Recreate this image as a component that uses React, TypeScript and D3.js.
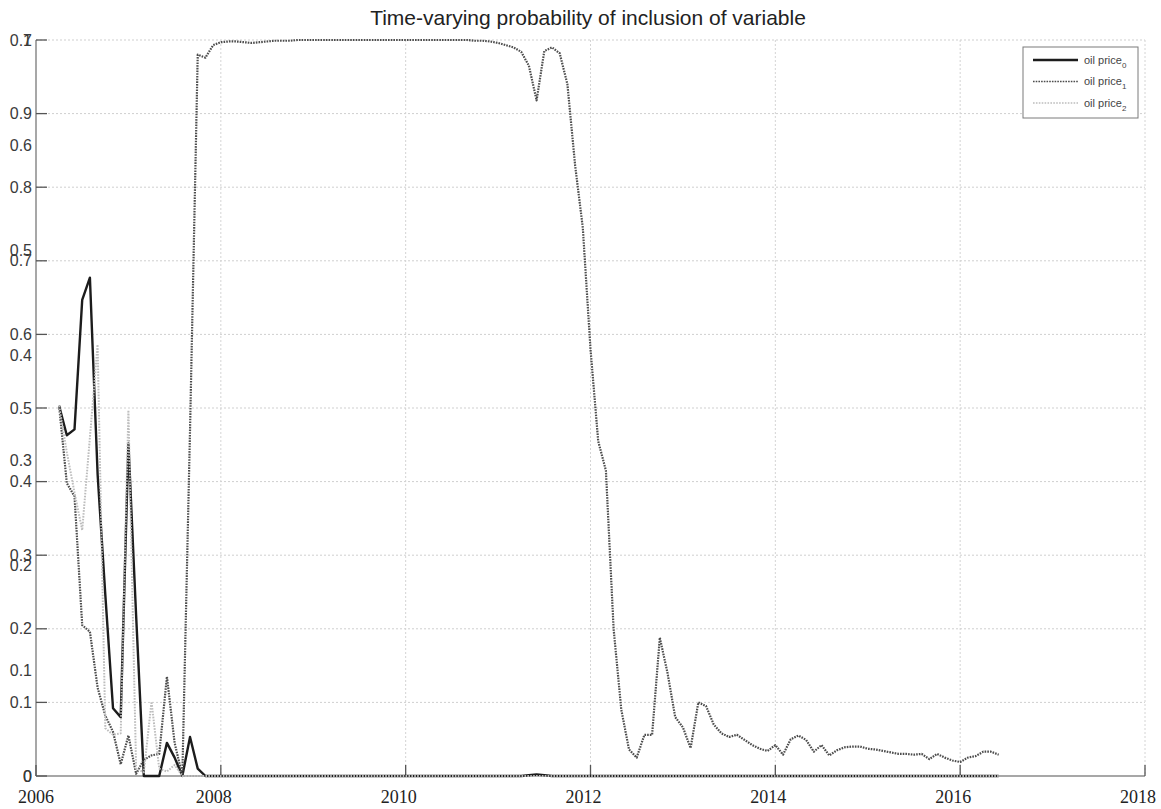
import { scaleLinear, line } from "d3";

// monthly observations, March 2006 .. May 2016
const startYear = 2006 + 3 / 12;

const oilPrice0 = [
  0.503, 0.463, 0.471, 0.647, 0.677, 0.41, 0.246, 0.092, 0.08, 0.452,
  0.218, 0, 0, 0, 0.045, 0.025, 0, 0.053, 0.01, 0,
  0, 0, 0, 0, 0, 0, 0, 0, 0, 0,
  0, 0, 0, 0, 0, 0, 0, 0, 0, 0,
  0, 0, 0, 0, 0, 0, 0, 0, 0, 0,
  0, 0, 0, 0, 0, 0, 0, 0, 0, 0,
  0, 0.001, 0.002, 0.001, 0, 0, 0, 0, 0, 0,
  0, 0, 0, 0, 0, 0, 0, 0, 0, 0,
  0, 0, 0, 0, 0, 0, 0, 0, 0, 0,
  0, 0, 0, 0, 0, 0, 0, 0, 0, 0,
  0, 0, 0, 0, 0, 0, 0, 0, 0, 0,
  0, 0, 0, 0, 0, 0, 0, 0, 0, 0,
  0, 0, 0,
];

const oilPrice1 = [
  0.503, 0.398, 0.38, 0.205, 0.196, 0.12, 0.082, 0.06, 0.016, 0.055,
  0.003, 0.022, 0.028, 0.03, 0.135, 0.045, 0, 0.47, 0.98, 0.976,
  0.993, 0.997, 0.998, 0.998, 0.997, 0.996, 0.997, 0.998, 0.999, 0.999,
  0.999, 1, 1, 1, 1, 1, 1, 1, 1, 1,
  1, 1, 1, 1, 1, 1, 1, 1, 1, 1,
  1, 1, 1, 1, 0.999, 0.999, 0.998, 0.996, 0.993, 0.99,
  0.984, 0.965, 0.918, 0.985, 0.99, 0.982, 0.94, 0.83, 0.745, 0.58,
  0.455, 0.415, 0.2, 0.09, 0.036, 0.025, 0.056, 0.056, 0.188, 0.14,
  0.08, 0.066, 0.038, 0.1, 0.095, 0.07, 0.058, 0.053, 0.056, 0.049,
  0.042, 0.037, 0.034, 0.042, 0.029, 0.05, 0.055, 0.049, 0.033, 0.042,
  0.028, 0.035, 0.039, 0.04, 0.04, 0.037, 0.036, 0.034, 0.032, 0.03,
  0.03, 0.029, 0.03, 0.023, 0.03, 0.025, 0.021, 0.019, 0.025, 0.027,
  0.033, 0.033, 0.029,
];

const oilPrice2 = [
  0.503, 0.44, 0.385, 0.334, 0.46, 0.586, 0.065, 0.056, 0.058, 0.497,
  0.01, 0.005, 0.101, 0.01, 0.006, 0.015, 0, 0, 0, 0,
  0, 0, 0, 0, 0, 0, 0, 0, 0, 0,
  0, 0, 0, 0, 0, 0, 0, 0, 0, 0,
  0, 0, 0, 0, 0, 0, 0, 0, 0, 0,
  0, 0, 0, 0, 0, 0, 0, 0, 0, 0,
  0, 0, 0, 0, 0, 0, 0, 0, 0, 0,
  0, 0, 0, 0, 0, 0, 0, 0, 0, 0,
  0, 0, 0, 0, 0, 0, 0, 0, 0, 0,
  0, 0, 0, 0, 0, 0, 0, 0, 0, 0,
  0, 0, 0, 0, 0, 0, 0, 0, 0, 0,
  0, 0, 0, 0, 0, 0, 0, 0, 0, 0,
  0, 0, 0,
];

const seriesNames = ["oil price", "oil price", "oil price"];
const seriesSubs = ["0", "1", "2"];
const yearTicks = [2006, 2008, 2010, 2012, 2014, 2016, 2018];
const yTicksMain = [0, 0.1, 0.2, 0.3, 0.4, 0.5, 0.6, 0.7, 0.8, 0.9, 1];
const yTicksOverlay = [0, 0.1, 0.2, 0.3, 0.4, 0.5, 0.6, 0.7];

const title = "Time-varying probability of inclusion of variable";

export default function App() {
  const width = 1161,
    height = 809;
  const left = 36,
    right = 1145,
    top = 40,
    bottom = 776;

  const x = scaleLinear().domain([2006, 2018]).range([left, right]);
  const y = scaleLinear().domain([0, 1]).range([bottom, top]);
  // second set of labels that sits over the first one
  const y2 = scaleLinear().domain([0, 0.7]).range([bottom, top]);

  const path = line<number>()
    .x((d, i) => x(startYear + i / 12))
    .y((d) => y(d));

  const styles = [
    { stroke: "#1c1c1c", width: 2.4, dash: undefined },
    { stroke: "#4d4d4d", width: 2.2, dash: "1.6 1.1" },
    { stroke: "#bdbdbd", width: 2, dash: "1.6 1.3" },
  ];
  const series = [oilPrice0, oilPrice1, oilPrice2];

  const fmt = (v: number) => String(+v.toFixed(1));

  return (
    <svg
      width={width}
      height={height}
      style={{ position: "absolute", left: 0, top: 0, background: "#fff" }}
      fontFamily="'Liberation Sans', Arial, sans-serif"
    >
      {/* grid */}
      {yTicksMain.slice(1).map((t) => (
        <line
          key={"gy" + t}
          x1={left}
          x2={right}
          y1={y(t)}
          y2={y(t)}
          stroke="#cfcfcf"
          strokeDasharray="2 2"
        />
      ))}
      {yearTicks.slice(1).map((t) => (
        <line
          key={"gx" + t}
          x1={x(t)}
          x2={x(t)}
          y1={top}
          y2={bottom}
          stroke="#d4d4d4"
          strokeDasharray="2 2"
        />
      ))}

      {/* axes */}
      <line x1={left} x2={left} y1={top} y2={bottom} stroke="#8a8a8a" strokeWidth={1.5} />
      <line x1={left} x2={right} y1={bottom} y2={bottom} stroke="#8a8a8a" strokeWidth={1.5} />
      {yTicksMain.map((t) => (
        <line key={"ty" + t} x1={left} x2={left + 11} y1={y(t)} y2={y(t)} stroke="#555" strokeWidth={1.3} />
      ))}
      {yearTicks.map((t) => (
        <line key={"tx" + t} x1={x(t)} x2={x(t)} y1={bottom} y2={bottom - 11} stroke="#555" strokeWidth={1.3} />
      ))}

      {/* series */}
      {series.map((s, i) => (
        <path
          key={"s" + i}
          d={path(s) ?? ""}
          fill="none"
          stroke={styles[i].stroke}
          strokeWidth={styles[i].width}
          strokeDasharray={styles[i].dash}
          strokeLinejoin="round"
        />
      ))}

      {/* y labels */}
      {yTicksMain.map((t) => (
        <text key={"ly" + t} x={32} y={y(t)} dy="0.35em" textAnchor="end" fontSize={16} fill="#3a3a3a">
          {fmt(t)}
        </text>
      ))}
      {yTicksOverlay.map((t) => (
        <text key={"ly2" + t} x={32} y={y2(t)} dy="0.35em" textAnchor="end" fontSize={16} fill="#3a3a3a">
          {fmt(t)}
        </text>
      ))}

      {/* x labels */}
      {yearTicks.map((t) => (
        <text
          key={"lx" + t}
          x={x(t) - (t === 2006 ? 0 : 7)}
          y={803}
          textAnchor="middle"
          fontSize={18}
          fontFamily="'Liberation Serif', 'Times New Roman', serif"
          fill="#222"
        >
          {t}
        </text>
      ))}

      {/* title */}
      <text x={588} y={25} textAnchor="middle" fontSize={21} fill="#222">
        {title}
      </text>

      {/* legend */}
      <g transform="translate(1023,47)">
        <rect width={115} height={71} fill="#fff" stroke="#7a7a7a" strokeWidth={1} />
        {seriesNames.map((n, i) => (
          <g key={"lg" + i} transform={`translate(0,${13 + i * 21.5})`}>
            <line
              x1={10}
              x2={55}
              stroke={styles[i].stroke}
              strokeWidth={i === 0 ? 2.4 : 1.6}
              strokeDasharray={styles[i].dash}
            />
            <text x={61} dy="0.35em" fontSize={11} fill="#444">
              {n}
              <tspan dy={4} fontSize={8}>
                {seriesSubs[i]}
              </tspan>
            </text>
          </g>
        ))}
      </g>
    </svg>
  );
}
